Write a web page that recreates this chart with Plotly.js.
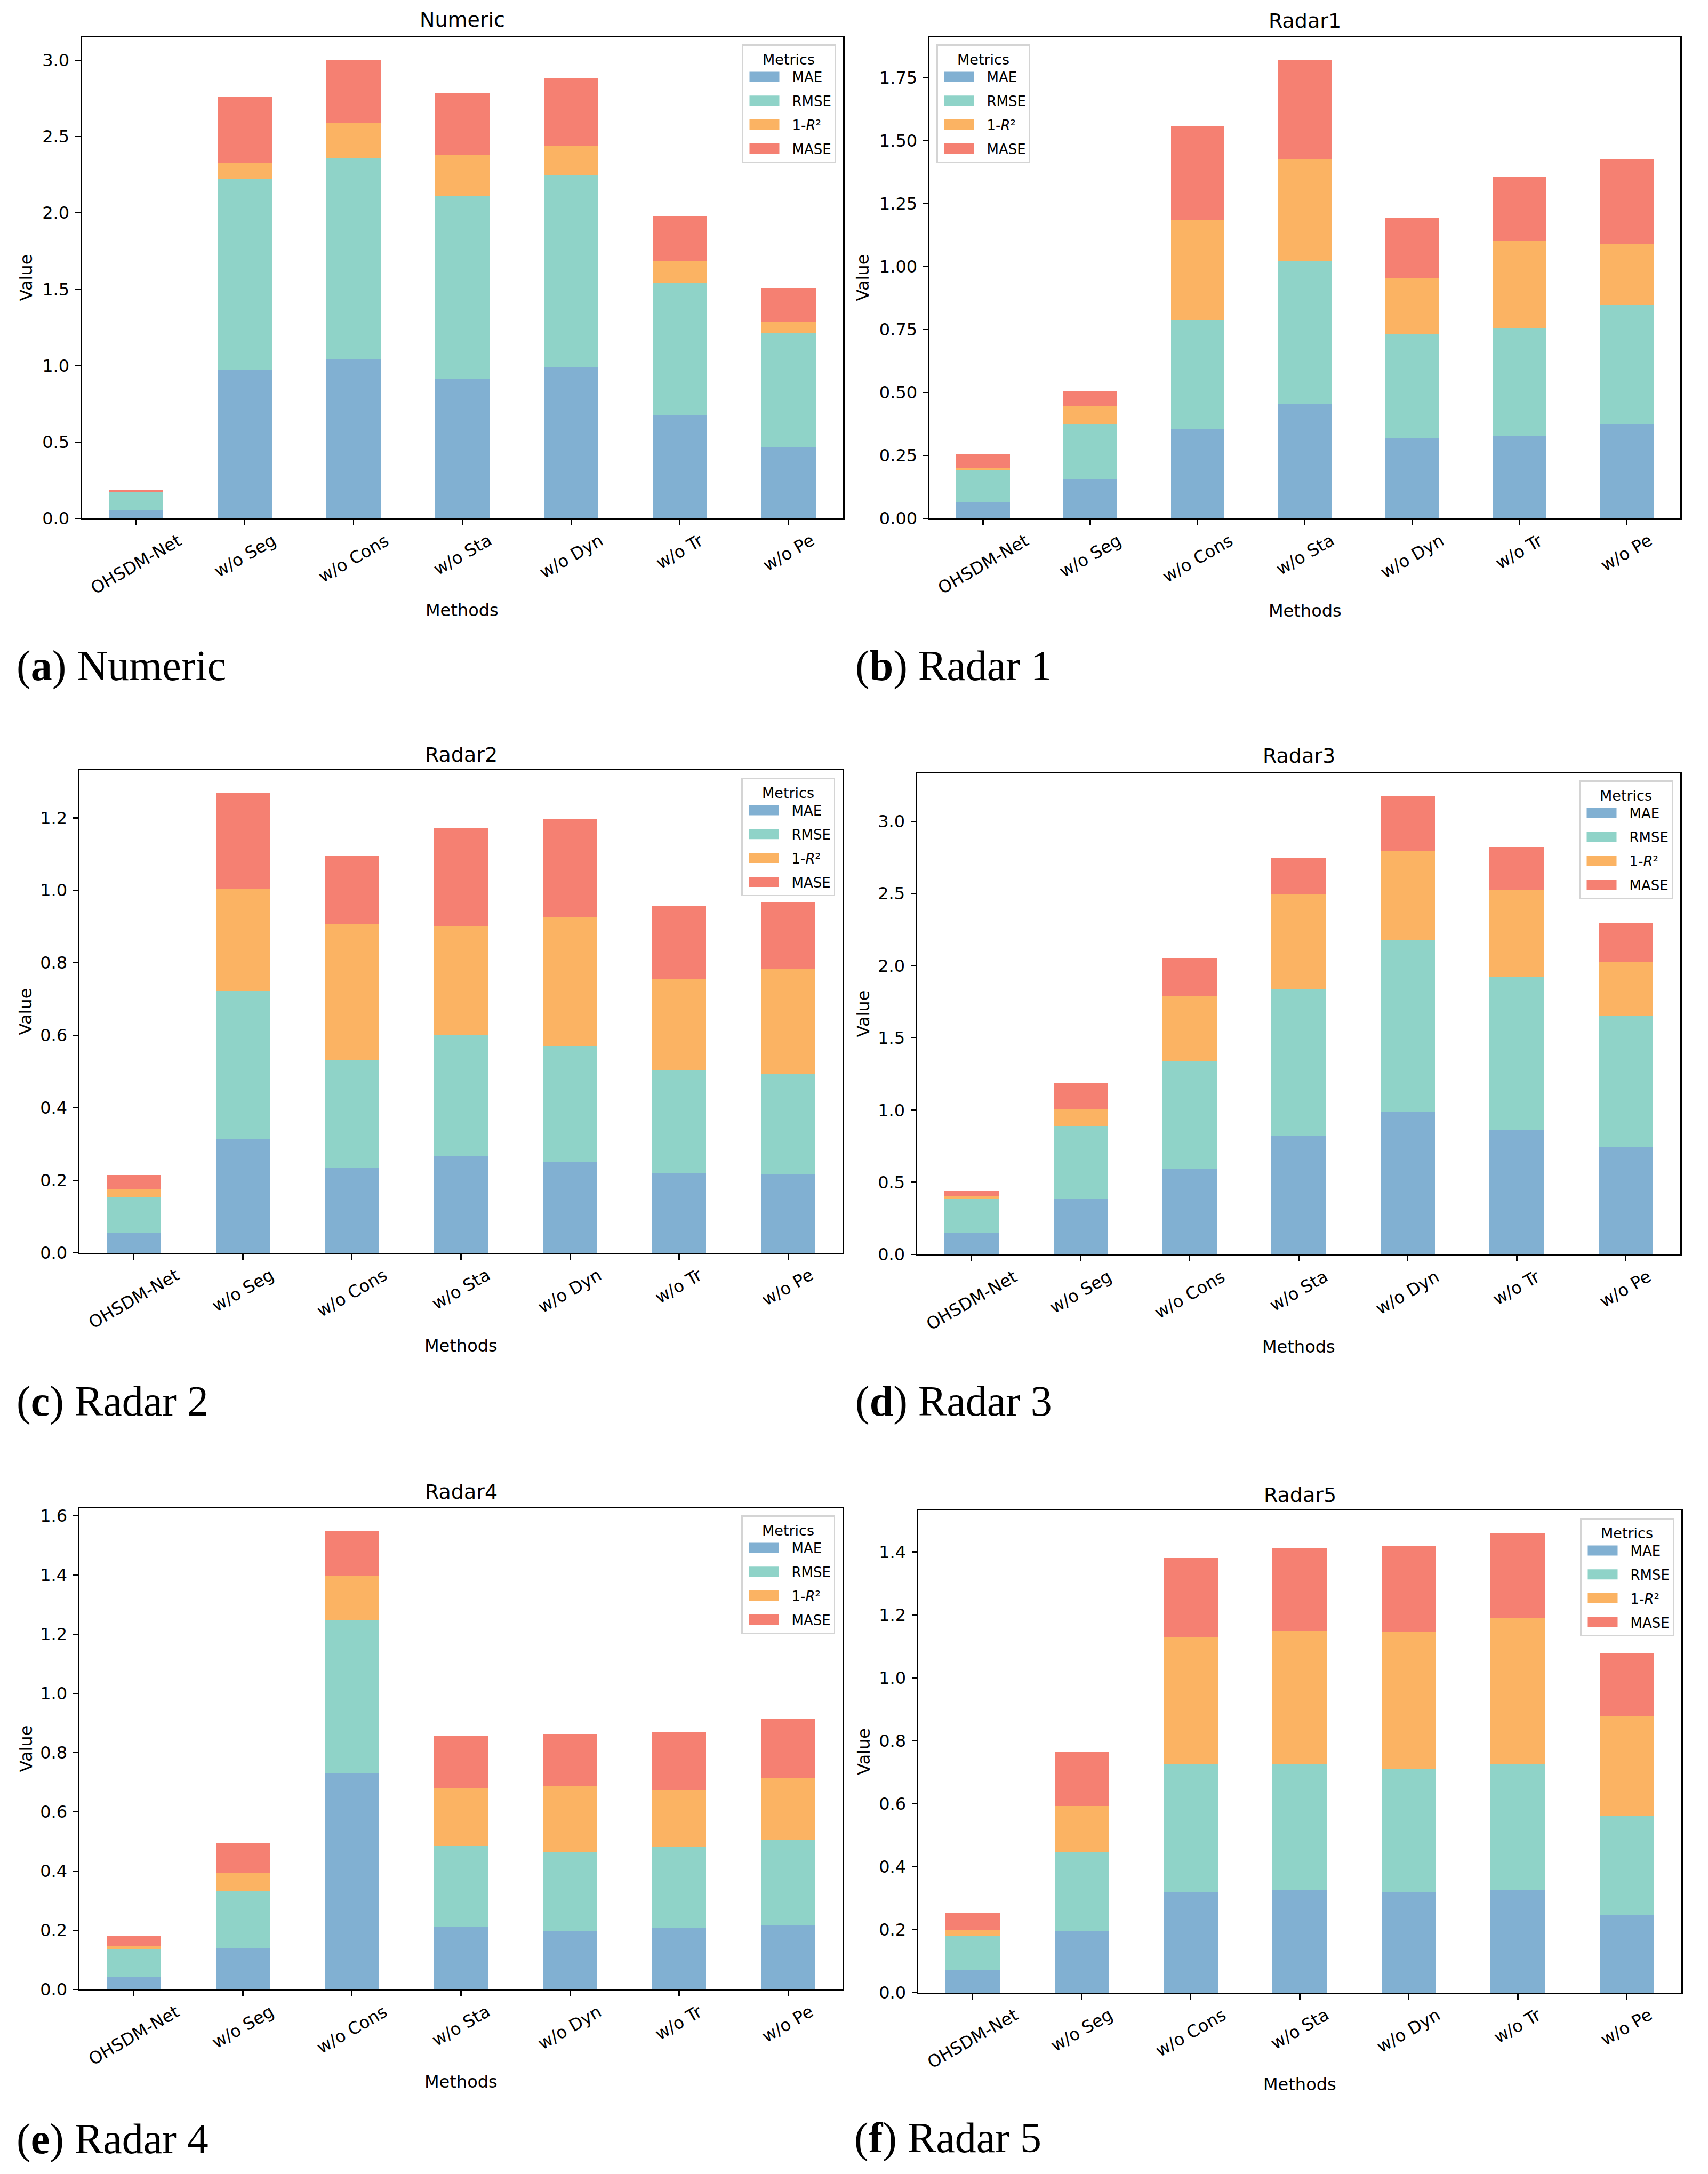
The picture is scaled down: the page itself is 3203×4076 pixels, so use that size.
<!DOCTYPE html>
<html>
<head>
<meta charset="utf-8">
<script src="https://cdn.plot.ly/plotly-3.0.1.min.js"></script>
<style>html,body{margin:0;padding:0;background:#fff;}</style>
</head>
<body>
<div id="chart"></div>
<script>
// ---------- DATA ----------
const methods = ['OHSDM-Net', 'w/o Seg', 'w/o Cons', 'w/o Sta', 'w/o Dyn', 'w/o Tr', 'w/o Pe'];
const metricNames = ['MAE', 'RMSE', '1-<i>R</i>²', 'MASE'];
const metricColors = ['#81b0d2', '#8fd3c8', '#fbb363', '#f58072'];
const panelTitles = ['Numeric', 'Radar1', 'Radar2', 'Radar3', 'Radar4', 'Radar5'];
const captions = ['(<b>a</b>) Numeric', '(<b>b</b>) Radar 1', '(<b>c</b>) Radar 2',
                  '(<b>d</b>) Radar 3', '(<b>e</b>) Radar 4', '(<b>f</b>) Radar 5'];

const numericMAE  = [0.055, 0.971, 1.041, 0.916, 0.991, 0.675, 0.467];
const numericRMSE = [0.117, 1.255, 1.318, 1.194, 1.258, 0.867, 0.745];
const numericR2   = [0.003, 0.104, 0.227, 0.273, 0.192, 0.142, 0.075];
const numericMASE = [0.010, 0.432, 0.417, 0.405, 0.440, 0.296, 0.220];

const radar1MAE  = [0.065, 0.156, 0.353, 0.455, 0.319, 0.328, 0.374];
const radar1RMSE = [0.126, 0.218, 0.435, 0.567, 0.413, 0.429, 0.474];
const radar1R2   = [0.011, 0.070, 0.397, 0.407, 0.223, 0.347, 0.240];
const radar1MASE = [0.054, 0.063, 0.375, 0.393, 0.239, 0.251, 0.339];

const radar2MAE  = [0.054, 0.313, 0.234, 0.267, 0.250, 0.221, 0.217];
const radar2RMSE = [0.100, 0.410, 0.298, 0.334, 0.321, 0.284, 0.276];
const radar2R2   = [0.022, 0.280, 0.376, 0.299, 0.356, 0.251, 0.291];
const radar2MASE = [0.039, 0.265, 0.186, 0.272, 0.269, 0.201, 0.182];

const radar3MAE  = [0.147, 0.386, 0.591, 0.823, 0.989, 0.860, 0.741];
const radar3RMSE = [0.236, 0.499, 0.747, 1.017, 1.187, 1.065, 0.915];
const radar3R2   = [0.018, 0.122, 0.453, 0.652, 0.619, 0.603, 0.370];
const radar3MASE = [0.040, 0.184, 0.263, 0.257, 0.382, 0.294, 0.267];

const radar4MAE  = [0.042, 0.139, 0.731, 0.211, 0.198, 0.207, 0.216];
const radar4RMSE = [0.093, 0.195, 0.518, 0.274, 0.266, 0.275, 0.289];
const radar4R2   = [0.012, 0.060, 0.147, 0.194, 0.224, 0.191, 0.210];
const radar4MASE = [0.033, 0.102, 0.153, 0.178, 0.175, 0.196, 0.199];

const radar5MAE  = [0.072, 0.195, 0.320, 0.327, 0.318, 0.327, 0.247];
const radar5RMSE = [0.110, 0.251, 0.404, 0.398, 0.392, 0.398, 0.313];
const radar5R2   = [0.018, 0.147, 0.405, 0.424, 0.435, 0.463, 0.318];
const radar5MASE = [0.053, 0.173, 0.251, 0.262, 0.272, 0.270, 0.200];

const yTickStep = [0.5, 0.25, 0.2, 0.5, 0.2, 0.2];
const yTickFormat = ['.1f', '.2f', '.1f', '.1f', '.1f', '.1f'];

const panelData = [
  [numericMAE, numericRMSE, numericR2, numericMASE],
  [radar1MAE, radar1RMSE, radar1R2, radar1MASE],
  [radar2MAE, radar2RMSE, radar2R2, radar2MASE],
  [radar3MAE, radar3RMSE, radar3R2, radar3MASE],
  [radar4MAE, radar4RMSE, radar4R2, radar4MASE],
  [radar5MAE, radar5RMSE, radar5R2, radar5MASE]
];

// ---------- LAYOUT GEOMETRY (pixels) ----------
const W = 3203, H = 4076;
const geom = [
  {px: [153, 1581],  py: [69, 972],    titleY: 37,   valueX: 49,   methodsY: 1144, capX: 29,   capY: 1248, legLeft: false},
  {px: [1743, 3151], py: [69, 972],    titleY: 39,   valueX: 1618, methodsY: 1145, capX: 1602, capY: 1248, legLeft: true},
  {px: [149, 1580],  py: [1444, 2349], titleY: 1415, valueX: 47,   methodsY: 2523, capX: 29,   capY: 2628, legLeft: false},
  {px: [1720, 3151], py: [1449, 2352], titleY: 1417, valueX: 1618, methodsY: 2525, capX: 1602, capY: 2628, legLeft: false},
  {px: [149, 1580],  py: [2827, 3730], titleY: 2797, valueX: 48,   methodsY: 3903, capX: 29,   capY: 4010, legLeft: false},
  {px: [1722, 3153], py: [2832, 3736], titleY: 2803, valueX: 1620, methodsY: 3908, capX: 1600, capY: 4008, legLeft: false}
];
const fx = p => p / W;
const fy = p => (H - p) / H;

const FONT = 'DejaVu Sans';
const TICK = 32;
const traces = [];
const layout = {
  width: W, height: H,
  margin: {l: 0, r: 0, t: 0, b: 0},
  paper_bgcolor: '#ffffff', plot_bgcolor: '#ffffff',
  barmode: 'stack',
  showlegend: true,
  font: {family: FONT, color: '#000000', size: TICK},
  annotations: []
};

panelData.forEach((series, i) => {
  const g = geom[i];
  const n = i === 0 ? '' : String(i + 1);
  const xa = 'x' + n, ya = 'y' + n;
  const legId = 'legend' + n;

  series.forEach((vals, m) => {
    traces.push({
      type: 'bar',
      x: methods,
      y: vals,
      name: metricNames[m],
      xaxis: xa, yaxis: ya,
      legend: legId,
      legendgroup: 'p' + i + 'm' + m,
      width: 0.5,
      marker: {color: metricColors[m], line: {width: 0}},
      hoverinfo: 'skip'
    });
  });

  const totals = methods.map((_, k) => series.reduce((s, arr) => s + arr[k], 0));
  const yTop = Math.max(...totals) * 1.05;

  layout['xaxis' + n] = {
    domain: [fx(g.px[0]), fx(g.px[1])],
    anchor: ya,
    type: 'category',
    range: [-0.5, 6.5],
    showline: true, mirror: true, linecolor: '#000', linewidth: 2.5,
    ticks: 'outside', ticklen: 10, tickwidth: 2.5, tickcolor: '#000',
    showticklabels: false, showgrid: false, zeroline: false, fixedrange: true
  };
  layout['yaxis' + n] = {
    domain: [fy(g.py[1]), fy(g.py[0])],
    anchor: xa,
    range: [0, yTop],
    tick0: 0, dtick: yTickStep[i], tickformat: yTickFormat[i],
    showline: true, mirror: true, linecolor: '#000', linewidth: 2.5,
    ticks: 'outside', ticklen: 10, tickwidth: 2.5, tickcolor: '#000',
    ticklabelstandoff: 4,
    tickfont: {family: FONT, size: TICK, color: '#000'},
    showgrid: false, zeroline: false, fixedrange: true
  };

  layout[legId] = {
    x: g.legLeft ? fx(g.px[0] + 13) : fx(g.px[1] - 14),
    xanchor: g.legLeft ? 'left' : 'right',
    y: fy(g.py[0] + 14), yanchor: 'top',
    bgcolor: 'rgba(255,255,255,0.8)',
    bordercolor: '#d4d4d4', borderwidth: 2.5,
    font: {family: FONT, size: 26, color: '#000'},
    title: {text: 'Metrics', side: 'top center', font: {family: FONT, size: 27, color: '#000'}},
    itemwidth: 82,
    tracegroupgap: 8
  };

  // x tick labels, rotated like the reference
  methods.forEach(mth => {
    layout.annotations.push({
      text: mth, xref: xa, x: mth, yref: ya + ' domain', y: 0,
      yshift: -19, xanchor: 'center', yanchor: 'top',
      textangle: -30, showarrow: false,
      font: {family: FONT, size: TICK, color: '#000'}
    });
  });
  // subplot title
  layout.annotations.push({
    text: panelTitles[i], xref: 'paper', yref: 'paper',
    x: fx((g.px[0] + g.px[1]) / 2), y: fy(g.titleY),
    xanchor: 'center', yanchor: 'middle', showarrow: false,
    font: {family: FONT, size: 38, color: '#000'}
  });
  // axis titles
  layout.annotations.push({
    text: 'Methods', xref: 'paper', yref: 'paper',
    x: fx((g.px[0] + g.px[1]) / 2), y: fy(g.methodsY),
    xanchor: 'center', yanchor: 'middle', showarrow: false,
    font: {family: FONT, size: TICK, color: '#000'}
  });
  layout.annotations.push({
    text: 'Value', xref: 'paper', yref: 'paper',
    x: fx(g.valueX), y: fy((g.py[0] + g.py[1]) / 2),
    xanchor: 'center', yanchor: 'middle', textangle: -90, showarrow: false,
    font: {family: FONT, size: TICK, color: '#000'}
  });
  // caption
  layout.annotations.push({
    text: captions[i], xref: 'paper', yref: 'paper',
    x: fx(g.capX), y: fy(g.capY),
    xanchor: 'left', yanchor: 'middle', showarrow: false,
    font: {family: 'Liberation Serif', size: 80, color: '#000'}
  });
});

function enlargeSwatches(gd) {
  // matplotlib-like legend patches (about 56 x 19 px), keeping Plotly's centring translate
  gd.querySelectorAll('.legendpoints path').forEach(p => {
    const t = p.getAttribute('transform') || '';
    if (t.indexOf('scale') === -1) {
      p.setAttribute('transform', t + ' translate(-6,0) scale(4.667,1.583)');
    }
  });
}

Plotly.newPlot('chart', traces, layout, {displayModeBar: false, staticPlot: true}).then(gd => {
  enlargeSwatches(gd);
  gd.on('plotly_afterplot', () => enlargeSwatches(gd));
  setTimeout(() => enlargeSwatches(gd), 200);
});
</script>
</body>
</html>
